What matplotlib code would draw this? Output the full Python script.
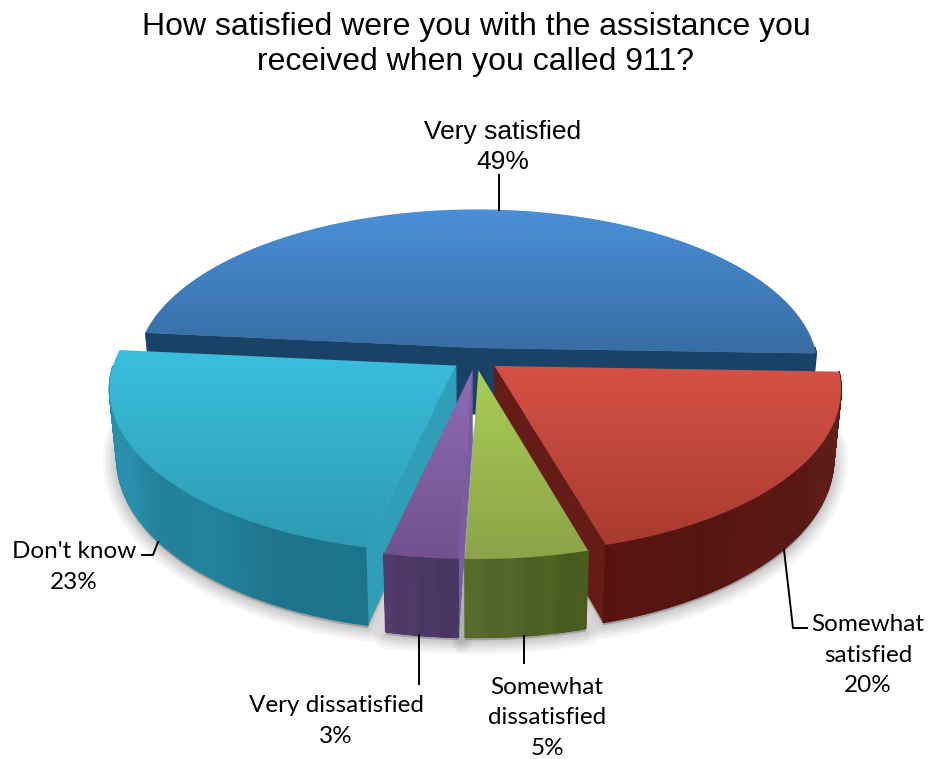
import matplotlib
matplotlib.use("Agg")
import matplotlib.pyplot as plt
import matplotlib.patches as mpatches
from matplotlib.collections import PolyCollection
from matplotlib.colors import to_rgb
import numpy as np

title = "How satisfied were you with the assistance you\nreceived when you called 911?"
categories = ["Very satisfied", "Somewhat satisfied", "Somewhat dissatisfied", "Very dissatisfied", "Don't know"]
percents = [49, 20, 5, 3, 23]

top_light = ["#4A90D8", "#D65145", "#A9CD56", "#8E6CB6", "#3ABFDE"]
top_dark = ["#376DA4", "#A73B2E", "#8CA347", "#72518E", "#2E9BB2"]
wall_a = ["#1A4166", "#55130F", "#586A2C", "#523A6B", "#2E9DB8"]
wall_b = ["#1A4166", "#5E1F19", "#475A1E", "#46355F", "#1C7088"]
side_col = ["#1A4166", "#661C16", "#556628", "#7A5CA2", "#2F9EB6"]

# projection of the pie, pixels
CX, CY = 475.5, 359.0
RX, RY = 341.0, 160.0
PERSP = 0.135
EXPLODE = 0.07
DEPTH = 67.0
SHRINK = 0.98
START = -2.0


def project(u, v, low=False):
    w = 1 / (1 + PERSP * v)
    x = CX + RX * u * w
    y = CY - RY * v * w
    if low:
        x = CX + (x - CX) * SHRINK
        y = y + DEPTH * w
    return x, y


def slice_points(a0, a1):
    mid = np.radians((a0 + a1) / 2)
    ox, oy = EXPLODE * np.cos(mid), EXPLODE * np.sin(mid)
    t = np.radians(np.linspace(a0, a1, 160))
    return ox, oy, ox + np.cos(t), oy + np.sin(t)


def hex_mix(c0, c1, f):
    return np.array(to_rgb(c0)) * (1 - f) + np.array(to_rgb(c1)) * f


fig = plt.figure(figsize=(9.29, 7.59), dpi=100)
ax = fig.add_axes([0, 0, 1, 1])

# slice angles, clockwise from the start angle
edges = [START]
order = [1, 2, 3, 4, 0]
angles = {}
for i in order:
    angles[i] = (edges[-1] - percents[i] * 3.6, edges[-1])
    edges.append(edges[-1] - percents[i] * 3.6)

# soft shadow under the front slices
for i in order[:-1]:
    a0, a1 = angles[i]
    ox, oy, u, v = slice_points(a0, a1)
    xb, yb = project(u, v, low=True)
    bx_, by_ = project(ox, oy, low=True)
    pts = np.column_stack([np.r_[bx_, xb], np.r_[by_, yb] + 3])
    for lw in [20, 16, 12, 9, 6, 3]:
        ax.add_patch(mpatches.Polygon(pts, closed=True, fc="#000000", ec="#000000", lw=lw,
                                      alpha=0.035, joinstyle="round", zorder=1))

z = 2
for i in [0, 4, 1, 3, 2]:
    a0, a1 = angles[i]
    ox, oy, u, v = slice_points(a0, a1)
    xt, yt = project(u, v)
    xb, yb = project(u, v, low=True)
    ax_, ay_ = project(ox, oy)
    bx_, by_ = project(ox, oy, low=True)

    # radial walls that face the viewer
    for k, normal in [(0, a0 - 90), (-1, a1 + 90)]:
        if np.sin(np.radians(normal)) >= 0:
            continue
        quad = [(ax_, ay_), (xt[k], yt[k]), (xb[k], yb[k]), (bx_, by_)]
        ax.add_patch(mpatches.Polygon(quad, closed=True, fc=side_col[i], ec=side_col[i], lw=0.4, zorder=z))
    z += 1

    # outer wall, front half only
    quads = []
    cols = []
    for k in range(len(u) - 1):
        if v[k] - oy > 0:
            continue
        quads.append([(xt[k], yt[k]), (xt[k + 1], yt[k + 1]), (xb[k + 1], yb[k + 1]), (xb[k], yb[k])])
        f = k / (len(u) - 2)
        c = hex_mix(wall_a[i], wall_b[i], f) * (1 + 0.03 * np.sin(k * 0.13))
        cols.append(np.clip(c, 0, 1))
    if quads:
        ax.add_collection(PolyCollection(quads, facecolors=cols, edgecolors=cols, linewidths=1.2, zorder=z))
    z += 1

    # top face with vertical gradient
    px = np.r_[ax_, xt]
    py = np.r_[ay_, yt]
    grad = np.linspace(0, 1, 256)[:, None, None] * np.array(to_rgb(top_dark[i]))[None, None, :] \
        + (1 - np.linspace(0, 1, 256))[:, None, None] * np.array(to_rgb(top_light[i]))[None, None, :]
    im = ax.imshow(grad, extent=(px.min(), px.max(), py.max(), py.min()), origin="upper",
                   aspect="auto", interpolation="bilinear", zorder=z)
    clip = mpatches.Polygon(np.column_stack([px, py]), closed=True, transform=ax.transData)
    im.set_clip_path(clip)
    z += 1

ax.set_xlim(0, 929)
ax.set_ylim(759, 0)
ax.axis("off")

ax.text(476, 44.5, title, ha="center", va="center", fontsize=23, family="Liberation Sans",
        linespacing=1.22, color="#000000", zorder=50)

labels = [
    (503, 147, "Very satisfied\n49%", "Liberation Sans", 19, 1.27),
    (868, 655, "Somewhat\nsatisfied\n20%", "Lato", 17.5, 1.56),
    (547, 718, "Somewhat\ndissatisfied\n5%", "Lato", 17.5, 1.56),
    (336, 721, "Very dissatisfied\n3%", "Lato", 17.5, 1.56),
    (74, 567, "Don't know\n23%", "Lato", 17.5, 1.56),
]
for x, y, s, fam, size, spacing in labels:
    ax.text(x, y, s, ha="center", va="center", fontsize=size, family=fam,
            linespacing=spacing, color="#000000", zorder=50)

leaders = [
    ([499, 499], [175, 210]),
    ([784, 793, 807], [550, 628, 628]),
    ([524, 524], [636, 663]),
    ([419, 419], [635, 684]),
    ([142, 153, 158], [555, 555, 542]),
]
for lx, ly in leaders:
    ax.plot(lx, ly, color="#000000", lw=1.4, zorder=40)

plt.savefig("out.png", dpi=100)
plt.close()
